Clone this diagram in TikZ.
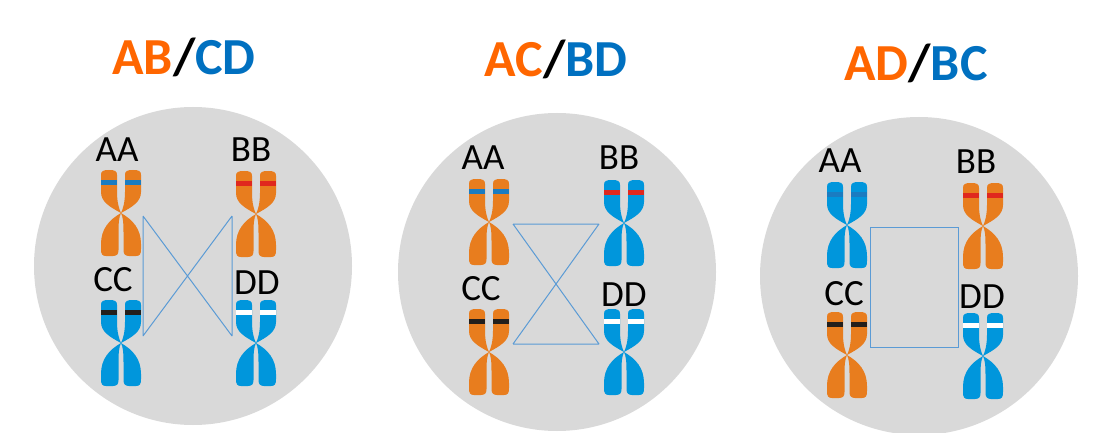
\documentclass[tikz,border=0pt]{standalone}
\usepackage{fontspec}
\setmainfont{Carlito}

\definecolor{cellgray}{HTML}{D9D9D9}
\definecolor{corange}{HTML}{E87D1E}
\definecolor{cblue}{HTML}{0096DC}
\definecolor{bandblue}{HTML}{1A7CC1}
\definecolor{bandred}{HTML}{E0281E}
\definecolor{bandblack}{HTML}{231F1C}
\definecolor{torange}{HTML}{FF6600}
\definecolor{tblue}{HTML}{0070C0}
\definecolor{pairline}{HTML}{5B9BD5}

% one chromatid, 40 wide pair, centromere at (20,43)
\newcommand{\armpath}{(0,5) .. controls (0,1) and (2,0) .. (8,0) .. controls (14,0) and (16,1) .. (16,5)
  -- (16,22) .. controls (16,32) and (18,39) .. (20,43)
  .. controls (18,47) and (17.5,53) .. (17.5,62) -- (17.5,80)
  .. controls (17.5,84) and (16,86) .. (12,86) -- (5,86)
  .. controls (1,86) and (0,84) .. (0,79) -- (0,74)
  .. controls (0,59) and (8,50) .. (20,43)
  .. controls (9,37) and (0,32) .. (0,22) -- cycle}

\tikzset{
  pics/chromo/.style args={#1 with #2}{code={
    \fill[#1] \armpath;
    \fill[#2] (0,9.5) rectangle (16,15);
    \begin{scope}[shift={(40,0)}, xscale=-1]
      \fill[#1] \armpath;
      \fill[#2] (0,9.5) rectangle (16,15);
    \end{scope}
  }},
  title/.style={anchor=base, inner sep=0, font=\fontsize{52}{60}\selectfont\bfseries},
  lbl/.style={anchor=base, inner sep=0, font=\fontsize{37}{42}\selectfont},
  pair/.style={pairline, line width=1}
}

\begin{document}
\begin{tikzpicture}[x=1pt, y=-1pt]
\useasboundingbox (0,0) rectangle (1114,433);
\clip (0,0) rectangle (1114,433);

% titles
\node[title] (t1) at (184,75) {\textcolor{torange}{AB}/\textcolor{tblue}{CD}};
\node[title] (t2) at (556,77) {\textcolor{torange}{AC}/\textcolor{tblue}{BD}};
\node[title] (t3) at (916,81) {\textcolor{torange}{AD}/\textcolor{tblue}{BC}};

% cells
\fill[cellgray] (193,266) circle (159);
\fill[cellgray] (557,272) circle (159);
\fill[cellgray] (919,276) circle (159);

% cell 1
\pic at (101,170) {chromo=corange with bandblue};
\pic at (236,171) {chromo=corange with bandred};
\pic at (101,300) {chromo=cblue with bandblack};
\pic at (236,300) {chromo=cblue with white};
\node[lbl] (aa1) at (117,162) {AA};
\node[lbl] (bb1) at (251,162) {BB};
\node[lbl] (cc1) at (113,291) {CC};
\node[lbl] (dd1) at (257,294) {DD};
\coordinate (a1) at (143,216);
\coordinate (b1) at (232,216);
\coordinate (c1) at (143,336);
\coordinate (d1) at (232,336);
\draw[pair] (a1) -- (c1) (b1) -- (d1) (a1) -- (d1) (c1) -- (b1);

% cell 2
\pic at (469,179) {chromo=corange with bandblue};
\pic at (604,180) {chromo=cblue with bandred};
\pic at (469,309) {chromo=corange with bandblack};
\pic at (604,309) {chromo=cblue with white};
\node[lbl] (aa2) at (483,170) {AA};
\node[lbl] (bb2) at (619,170) {BB};
\node[lbl] (cc2) at (481,300) {CC};
\node[lbl] (dd2) at (624,306) {DD};
\coordinate (a2) at (513,224);
\coordinate (b2) at (599,224);
\coordinate (c2) at (513,344);
\coordinate (d2) at (599,344);
\draw[pair] (a2) -- (b2) (c2) -- (d2) (a2) -- (d2) (c2) -- (b2);

% cell 3
\pic at (827,182) {chromo=cblue with bandblue};
\pic at (963,183) {chromo=corange with bandred};
\pic at (827,312) {chromo=corange with bandblack};
\pic at (963,313) {chromo=cblue with white};
\node[lbl] (aa3) at (840,172) {AA};
\node[lbl] (bb3) at (976,173) {BB};
\node[lbl] (cc3) at (844,305) {CC};
\node[lbl] (dd3) at (982,308) {DD};
\coordinate (a3) at (870,227);
\coordinate (b3) at (958,227);
\coordinate (c3) at (870,347);
\coordinate (d3) at (958,347);
\draw[pair] (a3) -- (b3) -- (d3) -- (c3) -- cycle;
\end{tikzpicture}
\end{document}
